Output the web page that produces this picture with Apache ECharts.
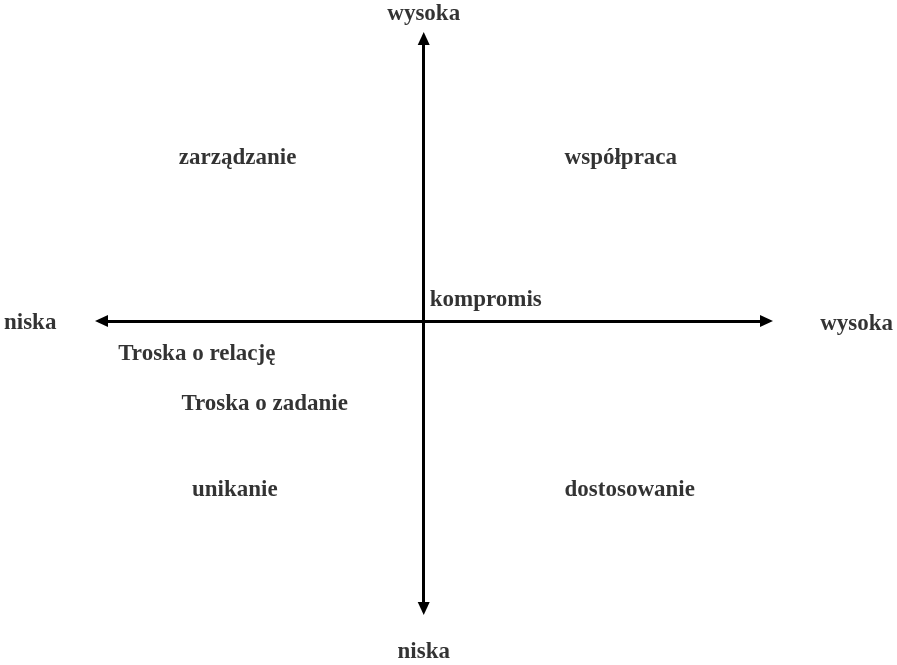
<!DOCTYPE html>
<html>
<head>
<meta charset="utf-8">
<script src="https://cdn.jsdelivr.net/npm/echarts@6/dist/echarts.min.js"></script>
<style>
  html, body { margin: 0; padding: 0; background: #fff; }
  #main { width: 897px; height: 665px; }
</style>
</head>
<body>
<div id="main"></div>
<script>
// quadrant labels (x = concern for task, y = concern for relation), in axis units
var labelNames = ["wysoka", "niska", "niska", "wysoka", "zarządzanie", "współpraca",
  "kompromis", "Troska o relację", "Troska o zadanie", "unikanie", "dostosowanie"];
var labelX = [0, 0, -11.48, 12.63, -5.43, 5.75, 0.175, -6.62, -4.64, -5.51, 6.01];
var labelY = [10.87, -11.72, -0.07, -0.1, 5.77, 5.77, 0.74, -1.17, -2.94, -5.98, -5.98];

// axis extents (arrow ends)
var xRange = [-9.4, 10];
var yRange = [-10.18, 10];

var chartDom = document.getElementById("main");
var myChart = echarts.init(chartDom);

var points = labelNames.map(function (name, i) {
  var item = { name: name, value: [labelX[i], labelY[i]] };
  if (name === "kompromis") {
    item.label = { align: "left" };
  }
  return item;
});

var axisLine = {
  show: true,
  onZero: true,
  symbol: ["triangle", "triangle"],
  symbolSize: [12, 13],
  lineStyle: { color: "#000", width: 3 },
};

var option = {
  animation: false,
  grid: { left: 101.5, right: 130.5, top: 38.5, bottom: 56.5 },
  xAxis: {
    type: "value",
    min: xRange[0],
    max: xRange[1],
    axisLine: axisLine,
    axisTick: { show: false },
    axisLabel: { show: false },
    splitLine: { show: false },
  },
  yAxis: {
    type: "value",
    min: yRange[0],
    max: yRange[1],
    axisLine: axisLine,
    axisTick: { show: false },
    axisLabel: { show: false },
    splitLine: { show: false },
  },
  series: [
    {
      type: "scatter",
      clip: false,
      symbolSize: 0,
      silent: true,
      label: {
        show: true,
        position: "inside",
        formatter: "{b}",
        color: "#000",
        fontFamily: "Liberation Serif",
        fontWeight: "bold",
        fontSize: 23,
      },
      data: points,
    },
  ],
};
myChart.setOption(option);
</script>
</body>
</html>
